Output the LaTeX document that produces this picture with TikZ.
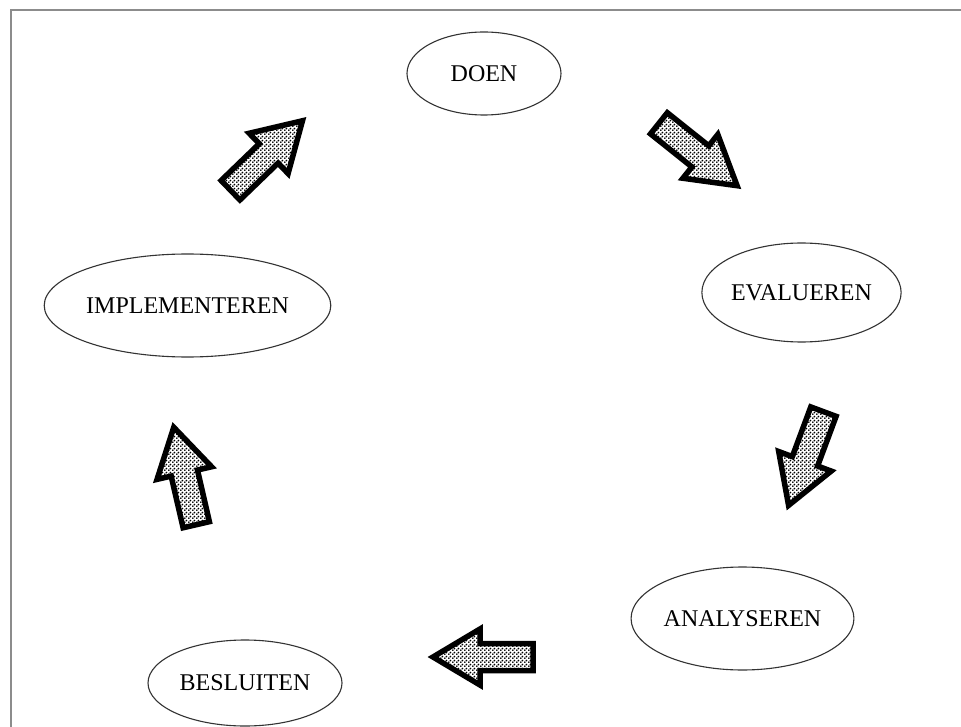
\documentclass[tikz,border=0pt]{standalone}
\usepackage{fontspec}
\setmainfont{Liberation Serif}
\usetikzlibrary{shapes.geometric,patterns}
\pgfdeclarepatternformonly{halftone}{\pgfpointorigin}{\pgfpoint{4pt}{4pt}}{\pgfpoint{4pt}{4pt}}{%
  \pgfpathcircle{\pgfpoint{1pt}{1pt}}{1.2pt}%
  \pgfpathcircle{\pgfpoint{3pt}{3pt}}{1.2pt}%
  \pgfusepath{fill}}
\tikzset{
  stage/.style={draw=black!80, line width=1.1pt, ellipse, inner sep=0pt,
    font=\fontsize{24}{28}\selectfont},
  blockarrow/.style={draw=black, line width=5.5pt, line join=miter,
    pattern=halftone, pattern color=black},
}
% #1 = centre, #2 = angle
\newcommand{\blkarrow}[2]{%
  \begin{scope}[shift={#1}, rotate=#2]
    \draw[blockarrow] (-50,-13.5) -- (3,-13.5) -- (3,-28) -- (50,0) -- (3,28) -- (3,13.5) -- (-50,13.5) -- cycle;
  \end{scope}}
\begin{document}
\begin{tikzpicture}[x=1pt,y=-1pt]
\useasboundingbox (0,0) rectangle (961,727);
\fill[white] (0,0) rectangle (961,727);
\draw[black!45, line width=1.3pt] (11,727) -- (11,10) -- (961,10);

\node[stage, minimum width=154pt, minimum height=83pt] (doen) at (484,73.5) {DOEN};
\node[stage, minimum width=197pt, minimum height=99pt] (eval) at (801.5,292.5) {EVALUEREN};
\node[stage, minimum width=200pt, minimum height=103pt] (anal) at (742.5,618.5) {ANALYSEREN};
\node[stage, minimum width=194pt, minimum height=86pt] (besl) at (245,683) {BESLUITEN};
\node[stage, minimum width=261pt, minimum height=103pt] (impl) at (187.5,305.5) {IMPLEMENTEREN};

\blkarrow{(266.5,155.5)}{44}
\blkarrow{(698,154.5)}{-38.6}
\blkarrow{(806,458.5)}{-110.4}
\blkarrow{(483,657)}{180}
\blkarrow{(185,476)}{103}
\end{tikzpicture}
\end{document}
